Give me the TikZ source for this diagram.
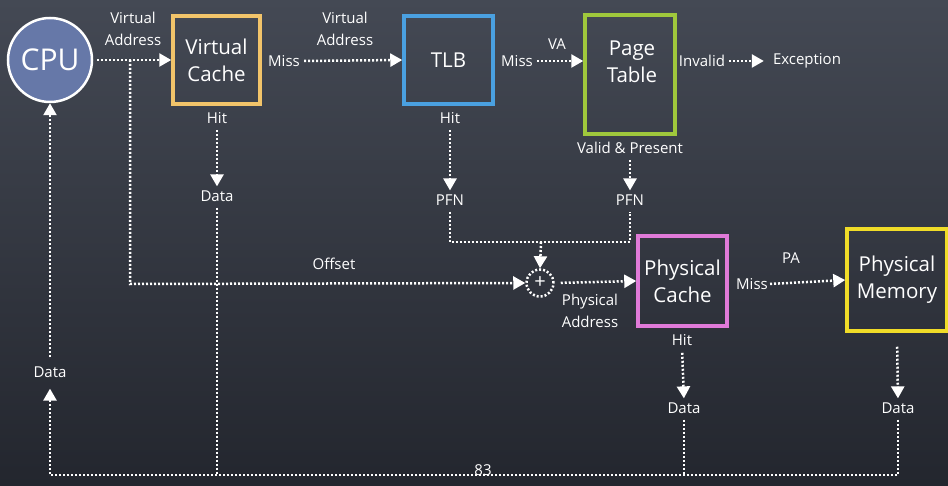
\documentclass[tikz,border=0pt]{standalone}
\usepackage{fontspec}
\setmainfont{Open Sans}
\usetikzlibrary{arrows.meta,calc}
\definecolor{boardtop}{HTML}{444954}
\definecolor{boardbot}{HTML}{23262E}
\definecolor{cpublue}{HTML}{6678A8}
\definecolor{vcol}{HTML}{F2C46A}
\definecolor{tlbcol}{HTML}{4AA0E0}
\definecolor{ptcol}{HTML}{A0C83C}
\definecolor{pccol}{HTML}{E07AD8}
\definecolor{pmcol}{HTML}{F0DC28}
\begin{document}
\begin{tikzpicture}[x=1pt,y=-1pt,
  link/.style={draw=white, line width=2.5pt, dash pattern=on 2pt off 2pt},
  arr/.style={link, -{Triangle[length=12pt,width=13pt]}},
  box/.style={draw, line width=3.5pt, text=white, align=center, font=\fontsize{20.5}{27}\selectfont},
  lbl/.style={text=white, align=center, inner sep=1pt, font=\fontsize{15}{22}\selectfont}]
\useasboundingbox (0,0) rectangle (948,486);
\shade[top color=boardtop, bottom color=boardbot] (0,0) rectangle (948,486);

% main nodes
\node[circle, fill=cpublue, draw=white, line width=2.5pt, minimum size=84pt, text=white,
      font=\fontsize{30}{34}\selectfont] (cpu) at (50,60) {CPU};
\node[box, draw=vcol, minimum width=87pt, minimum height=88pt] (vc) at (216.5,60) {Virtual\\Cache};
\node[box, draw=tlbcol, minimum width=89pt, minimum height=88pt] (tlb) at (448.5,60) {TLB};
\node[box, draw=ptcol, minimum width=90pt, minimum height=119pt] (pt) at (630,74.5) {};
\node[text=white, align=center, font=\fontsize{20.5}{27}\selectfont] (pttext) at (632,62) {Page\\Table};
\node[box, draw=pccol, minimum width=89pt, minimum height=90pt] (pc) at (682.5,281) {Physical\\Cache};
\node[box, draw=pmcol, minimum width=100pt, minimum height=102pt] (pm) at (897,280) {Physical\\Memory};
\node[circle, link, minimum size=27pt, inner sep=0pt, text=white, font=\fontsize{20}{20}\selectfont] (plus) at (540,283) {+};

% labels
\node[lbl] (va1) at (133,29) {Virtual\\Address};
\node[lbl] (vcmiss) at (284,61) {Miss};
\node[lbl] (va2) at (345,29) {Virtual\\Address};
\node[lbl] (tlbmiss) at (517,61) {Miss};
\node[lbl] (valbl) at (557,44) {VA};
\node[lbl] (invalid) at (702,61) {Invalid};
\node[lbl] (exc) at (807,61) {Exception};
\node[lbl] (vchit) at (217,118) {Hit};
\node[lbl] (vcdata) at (217,196) {Data};
\node[lbl] (tlbhit) at (450,118) {Hit};
\node[lbl] (pfn1) at (450,200) {PFN};
\node[lbl] (valid) at (630,148) {Valid \& Present};
\node[lbl] (pfn2) at (630,200) {PFN};
\node[lbl] (offset) at (334,264) {Offset};
\node[lbl] (paddr) at (590,311) {Physical\\Address};
\node[lbl] (pcmiss) at (752,284) {Miss};
\node[lbl] (palbl) at (791,258) {PA};
\node[lbl] (pchit) at (682,340) {Hit};
\node[lbl] (pcdata) at (684,408) {Data};
\node[lbl] (pmdata) at (898,408) {Data};
\node[lbl] (cpudata) at (50,372) {Data};
\node[lbl] (pagenum) at (483,470) {83};

% junction coordinates
\coordinate (br) at (130,60);
\coordinate (brc) at (130,284);
\coordinate (j1) at (450,242);
\coordinate (j2) at (630,242);
\coordinate (jm) at (541,242);
\coordinate (b1) at (217,475);
\coordinate (b2) at (684,475);
\coordinate (b3) at (898,475);
\coordinate (b0) at (50,475);

% connectors
\draw[arr, shorten <=4pt] (cpu.east) -- (vc.west);
\draw[arr] (br) -- (brc) -- (plus.west);
\draw[arr, shorten <=3pt] (vcmiss.east) -- (tlb.west);
\draw[arr, shorten <=3pt] (tlbmiss.east) -- (tlbmiss.east -| pt.west);
\draw[arr, shorten <=3pt, shorten >=8pt] (invalid.east) -- (exc.west);
\draw[arr, shorten <=5pt, shorten >=3pt] (vchit.south) -- (vcdata.north);
\draw[link, shorten <=5pt] (vcdata.south) -- (b1);
\draw[arr, shorten <=5pt, shorten >=3pt] (tlbhit.south) -- (pfn1.north);
\draw[link, shorten <=5pt, shorten >=5pt] (pfn1.south) -- (j1) -- (j2) -- (pfn2.south);
\draw[arr] (jm) -- (plus.north);
\draw[arr, shorten <=5pt, shorten >=3pt] (valid.south) -- (pfn2.north);
\draw[arr, shorten <=6pt] (plus.east) -- (pc.west);
\draw[arr, shorten <=1pt] (pcmiss.east) -- (pm.west);
\draw[arr, shorten <=6pt, shorten >=3pt] (pchit.south) -- (pcdata.north);
\draw[link, shorten <=5pt] (pcdata.south) -- (b2);
\draw[arr, shorten <=14pt, shorten >=3pt] (pm.south) -- (pmdata.north);
\draw[arr, shorten <=5pt, shorten >=10pt] (pmdata.south) -- (b3) -- (b0) -- (cpudata.south);
\draw[arr, shorten <=8pt] (cpudata.north) -- (cpu.south);
\end{tikzpicture}
\end{document}
